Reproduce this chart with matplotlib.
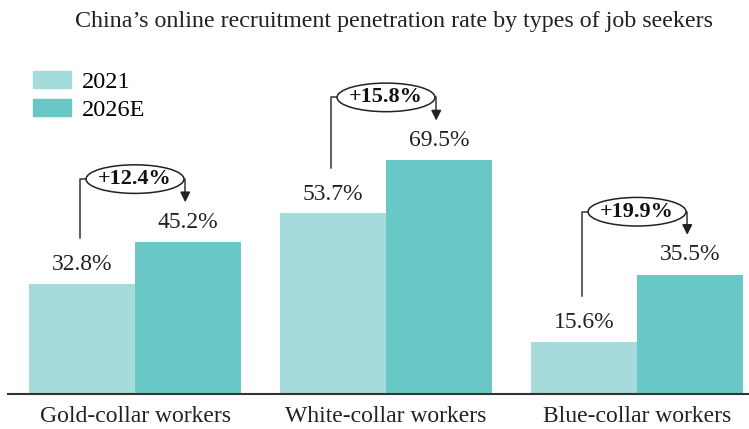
import matplotlib.pyplot as plt
from matplotlib.patches import Ellipse, Patch

categories = ["Gold-collar workers", "White-collar workers", "Blue-collar workers"]
rate_2021 = [32.8, 53.7, 15.6]
rate_2026 = [45.2, 69.5, 35.5]
growth = ["+12.4%", "+15.8%", "+19.9%"]

c2021 = "#a6dbdc"
c2026 = "#69c8c6"

plt.rcParams['font.family'] = ['Liberation Serif', 'DejaVu Serif']

fig = plt.figure(figsize=(7.49, 4.29), dpi=100)
W, H = 749, 429
ax = fig.add_axes([8 / W, 35 / H, 741 / W, 355 / H])

w = 0.424
x = list(range(len(categories)))
ax.bar([i - w / 2 for i in x], rate_2021, w, color=c2021, label="2021")
ax.bar([i + w / 2 for i in x], rate_2026, w, color=c2026, label="2026E")

ax.set_xlim(-0.506, 2.446)
ax.set_ylim(0, 355 / 3.363)

for i in x:
    v1, v2 = rate_2021[i], rate_2026[i]
    ax.text(i - w / 2, v1 + 5.6, f"{v1}%", ha="center", va="center", fontsize=17, color="#222222")
    ax.text(i + w / 2, v2 + 5.9, f"{v2}%", ha="center", va="center", fontsize=17, color="#222222")
    yb = v2 + 18.7
    xl, xr = i - 0.22, i + 0.2
    ax.plot([xl, xl, xr, xr], [v1 + 13.5, yb, yb, v2 + 13.5], color="#333333", lw=1.1)
    ax.annotate("", xy=(xr, v2 + 11.0), xytext=(xr, v2 + 14.5),
                arrowprops=dict(arrowstyle="-|>,head_length=0.6,head_width=0.3", color="#222222", lw=1.1))
    ax.add_patch(Ellipse((i, yb), 0.39, 8.5, facecolor="white", edgecolor="#222222", lw=1.1, zorder=3))
    ax.text(i, yb, growth[i], ha="center", va="center", fontsize=16, fontweight="bold", color="#111111", zorder=4)

ax.set_xticks(x)
ax.set_xticklabels(categories, fontsize=17, color="#222222")
ax.tick_params(axis="x", length=0, pad=9)
ax.set_yticks([])
for s in ["top", "right", "left"]:
    ax.spines[s].set_visible(False)
ax.spines["bottom"].set_linewidth(1.5)
ax.spines["bottom"].set_color("#333333")

handles = [Patch(color=c2021), Patch(color=c2026)]
fig.legend(handles, ["2021", "2026E"], loc="upper left", bbox_to_anchor=(11 / W, 1 - 49 / H),
           frameon=False, fontsize=17.5, handlelength=1.55, handleheight=0.7, labelspacing=0.25,
           handletextpad=0.45)

fig.text(394 / W, 1 - 21 / H, "China\u2019s online recruitment penetration rate by types of job seekers",
         ha="center", va="center", fontsize=17.3, color="#222222")

fig.savefig("out.png", dpi=100)
